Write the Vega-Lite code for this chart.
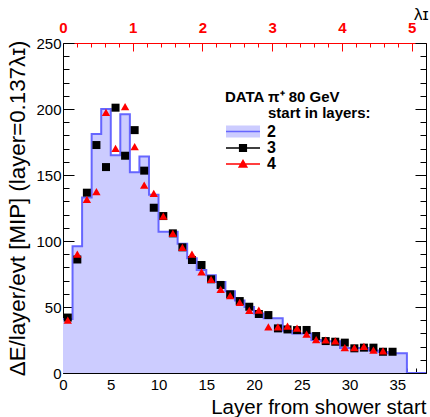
{
  "$schema": "https://vega.github.io/schema/vega-lite/v6.json",
  "width": 363,
  "height": 330,
  "autosize": "none",
  "padding": {"left": 63, "top": 43, "right": 4, "bottom": 44},
  "background": "white",
  "config": {
    "view": {"stroke": null},
    "font": "Liberation Sans",
    "axis": {"grid": false, "labelFont": "Liberation Sans", "titleFont": "Liberation Sans", "domainColor": "black", "tickColor": "black", "labelColor": "black", "titleColor": "black", "titleFontWeight": "normal", "labelFlush": false, "labelOverlap": false},
    "legend": {"orient": "none", "padding": 0, "symbolSize": 1156, "clipHeight": 17, "rowPadding": 0, "labelOffset": 6, "labelFont": "Liberation Sans", "labelFontSize": 16, "labelFontWeight": "bold", "labelColor": "black", "symbolStrokeWidth": 1.5, "symbolOpacity": 1}
  },
  "title": {
    "text": "start in layers:",
    "anchor": "start",
    "frame": "group",
    "orient": "top",
    "offset": 0,
    "dx": 205,
    "dy": 128,
    "baseline": "alphabetic",
    "font": "Liberation Sans",
    "fontSize": 15,
    "fontWeight": "bold",
    "color": "black"
  },
  "datasets": {
    "hist": [
      {"layer": 0, "dE": 41}, {"layer": 1, "dE": 96}, {"layer": 2, "dE": 133}, {"layer": 3, "dE": 181},
      {"layer": 4, "dE": 200}, {"layer": 5, "dE": 165}, {"layer": 6, "dE": 196}, {"layer": 7, "dE": 152},
      {"layer": 8, "dE": 164}, {"layer": 9, "dE": 135}, {"layer": 10, "dE": 107}, {"layer": 11, "dE": 107},
      {"layer": 12, "dE": 98}, {"layer": 13, "dE": 87}, {"layer": 14, "dE": 78}, {"layer": 15, "dE": 74},
      {"layer": 16, "dE": 69}, {"layer": 17, "dE": 62}, {"layer": 18, "dE": 55}, {"layer": 19, "dE": 50},
      {"layer": 20, "dE": 45}, {"layer": 21, "dE": 41.5}, {"layer": 22, "dE": 41.5}, {"layer": 23, "dE": 32},
      {"layer": 24, "dE": 30}, {"layer": 25, "dE": 30}, {"layer": 26, "dE": 25}, {"layer": 27, "dE": 24},
      {"layer": 28, "dE": 24}, {"layer": 29, "dE": 19}, {"layer": 30, "dE": 19}, {"layer": 31, "dE": 19},
      {"layer": 32, "dE": 17}, {"layer": 33, "dE": 16}, {"layer": 34, "dE": 15}, {"layer": 35, "dE": 15},
      {"layer": 36, "dE": 0}, {"layer": 37, "dE": 0}, {"layer": 38, "dE": 0}
    ],
    "start3": [
      {"layer": 0.5, "dE": 42}, {"layer": 1.5, "dE": 86}, {"layer": 2.5, "dE": 136.6}, {"layer": 3.5, "dE": 172.7},
      {"layer": 4.5, "dE": 156}, {"layer": 5.5, "dE": 201}, {"layer": 6.5, "dE": 164.6}, {"layer": 7.5, "dE": 184},
      {"layer": 8.5, "dE": 153.3}, {"layer": 9.5, "dE": 125.2}, {"layer": 10.5, "dE": 118.9}, {"layer": 11.5, "dE": 105.8},
      {"layer": 12.5, "dE": 95.2}, {"layer": 13.5, "dE": 85.6}, {"layer": 14.5, "dE": 81.8}, {"layer": 15.5, "dE": 71},
      {"layer": 16.5, "dE": 66.7}, {"layer": 17.5, "dE": 59.6}, {"layer": 18.5, "dE": 54.5}, {"layer": 19.5, "dE": 50.2},
      {"layer": 20.5, "dE": 44.7}, {"layer": 21.5, "dE": 43.9}, {"layer": 22.5, "dE": 33.8}, {"layer": 23.5, "dE": 33},
      {"layer": 24.5, "dE": 32.5}, {"layer": 25.5, "dE": 32.6}, {"layer": 26.5, "dE": 28}, {"layer": 27.5, "dE": 24.2},
      {"layer": 28.5, "dE": 23.7}, {"layer": 29.5, "dE": 23}, {"layer": 30.5, "dE": 18.7}, {"layer": 31.5, "dE": 19.2},
      {"layer": 32.5, "dE": 19.2}, {"layer": 33.5, "dE": 16.1}, {"layer": 34.5, "dE": 16.1}
    ],
    "start4": [
      {"layer": 0.5, "dE": 40}, {"layer": 1.5, "dE": 90}, {"layer": 2.5, "dE": 131.6}, {"layer": 3.5, "dE": 137.4},
      {"layer": 4.5, "dE": 197.5}, {"layer": 5.5, "dE": 170.2}, {"layer": 6.5, "dE": 201.8}, {"layer": 7.5, "dE": 171.5},
      {"layer": 8.5, "dE": 142.4}, {"layer": 9.5, "dE": 136.1}, {"layer": 10.5, "dE": 118.9}, {"layer": 11.5, "dE": 105.8},
      {"layer": 12.5, "dE": 95.2}, {"layer": 13.5, "dE": 90.1}, {"layer": 14.5, "dE": 76.7}, {"layer": 15.5, "dE": 71},
      {"layer": 16.5, "dE": 63.4}, {"layer": 17.5, "dE": 58.6}, {"layer": 18.5, "dE": 53.5}, {"layer": 19.5, "dE": 47.5},
      {"layer": 20.5, "dE": 47.7}, {"layer": 21.5, "dE": 35}, {"layer": 22.5, "dE": 35}, {"layer": 23.5, "dE": 35.6},
      {"layer": 24.5, "dE": 34}, {"layer": 25.5, "dE": 29.4}, {"layer": 26.5, "dE": 25.3}, {"layer": 27.5, "dE": 25},
      {"layer": 28.5, "dE": 24.3}, {"layer": 29.5, "dE": 19.3}, {"layer": 30.5, "dE": 19.3}, {"layer": 31.5, "dE": 20.2},
      {"layer": 32.5, "dE": 17.4}, {"layer": 33.5, "dE": 16.7}
    ]
  },
  "layer": [
    {
      "data": {"name": "hist"},
      "mark": {"type": "area", "interpolate": "step-after", "opacity": 1, "clip": true},
      "encoding": {
        "x": {
          "field": "layer", "type": "quantitative",
          "scale": {"domain": [0, 38], "nice": false, "zero": false},
          "axis": {
            "orient": "bottom",
            "values": [0,1,2,3,4,5,6,7,8,9,10,11,12,13,14,15,16,17,18,19,20,21,22,23,24,25,26,27,28,29,30,31,32,33,34,35,36,37,38],
            "format": "d",
            "labelExpr": "datum.value % 5 === 0 && datum.value <= 35 ? datum.label : ''",
            "tickSize": {"condition": {"test": "datum.value % 5 === 0", "value": -10}, "value": -5},
            "labelPadding": 14,
            "labelFontSize": 15,
            "domainWidth": 1,
            "title": "Layer from shower start",
            "titleFontSize": 20.5,
            "titleAnchor": "end",
            "titleAlign": "right",
            "titleBaseline": "alphabetic",
            "titleX": 363,
            "titleY": 40
          }
        },
        "y": {
          "field": "dE", "type": "quantitative",
          "scale": {"domain": [0, 250], "nice": false, "zero": true},
          "axis": {
            "orient": "left",
            "values": [0,10,20,30,40,50,60,70,80,90,100,110,120,130,140,150,160,170,180,190,200,210,220,230,240,250],
            "format": "d",
            "labelExpr": "datum.value % 50 === 0 ? datum.label : ''",
            "tickSize": {"condition": {"test": "datum.value % 50 === 0", "value": -11}, "value": -6},
            "labelPadding": 13,
            "labelFontSize": 15,
            "domainWidth": 1,
            "title": "ΔE/layer/evt [MIP] (layer=0.137λɪ)",
            "titleFontSize": 22.3,
            "titleAngle": -90,
            "titleAlign": "right",
            "titleAnchor": "end",
            "titleBaseline": "alphabetic",
            "titleX": -39,
            "titleY": -3
          }
        },
        "fill": {
          "datum": "2",
          "scale": {"domain": ["2"], "range": ["#ccccff"]},
          "legend": {
            "legendX": 162,
            "legendY": 47,
            "title": "DATA π⁺ 80 GeV",
            "titleFont": "Liberation Sans",
            "titleFontSize": 15,
            "titleFontWeight": "bold",
            "titleColor": "black",
            "titlePadding": 18,
            "titleBaseline": "top",
            "symbolType": "M-1,0H1V-0.35H-1V0.35H1V0Z",
            "symbolStrokeColor": "#6666ff",
            "symbolDash": [34, 300]
          }
        }
      }
    },
    {
      "data": {"name": "hist"},
      "mark": {"type": "line", "interpolate": "step-after", "color": "#6666ff", "strokeWidth": 2, "clip": true},
      "encoding": {
        "x": {"field": "layer", "type": "quantitative", "axis": null},
        "y": {"field": "dE", "type": "quantitative", "axis": null}
      }
    },
    {
      "data": {"name": "start3"},
      "mark": {"type": "point", "shape": "square", "filled": true, "size": 64, "color": "#000000", "opacity": 1},
      "encoding": {
        "x": {
          "field": "layer", "type": "quantitative",
          "axis": {
            "orient": "top",
            "values": [0, 1.4599, 2.9197, 4.3796, 5.8394, 7.2993, 8.7591, 10.219, 11.6788, 13.1387, 14.5985, 16.0584, 17.5182, 18.9781, 20.438, 21.8978, 23.3577, 24.8175, 26.2774, 27.7372, 29.1971, 30.6569, 32.1168, 33.5766, 35.0365, 36.4964, 37.9562],
            "labelExpr": "abs(datum.value * 0.137 - round(datum.value * 0.137)) < 0.01 ? format(round(datum.value * 0.137), 'd') : ''",
            "tickSize": {"condition": {"test": "abs(datum.value * 0.137 - round(datum.value * 0.137)) < 0.01", "value": -8}, "value": -4},
            "labelPadding": 16,
            "labelFontSize": 15,
            "labelFontWeight": "bold",
            "labelColor": "#ff0000",
            "domainColor": "#ff0000",
            "tickColor": "#ff0000",
            "domainWidth": 1,
            "title": "λɪ",
            "titleFontSize": 17,
            "titleAnchor": "end",
            "titleAlign": "right",
            "titleBaseline": "alphabetic",
            "titleX": 365,
            "titleY": -24
          }
        },
        "y": {
          "field": "dE", "type": "quantitative",
          "axis": {
            "orient": "right",
            "values": [0,10,20,30,40,50,60,70,80,90,100,110,120,130,140,150,160,170,180,190,200,210,220,230,240,250],
            "labels": false,
            "tickSize": {"condition": {"test": "datum.value % 50 === 0", "value": -11}, "value": -6},
            "domainWidth": 1,
            "title": null
          }
        },
        "strokeDash": {
          "datum": "3",
          "scale": {"domain": ["3"], "range": [[1, 0]]},
          "legend": {
            "legendX": 162,
            "legendY": 96.5,
            "title": null,
            "symbolType": "M-1,-0.045H1V0.045H-1ZM-0.24,-0.24H0.24V0.24H-0.24Z",
            "symbolFillColor": "#000000"
          }
        }
      }
    },
    {
      "data": {"name": "start4"},
      "mark": {"type": "point", "shape": "triangle-up", "filled": true, "size": 70, "color": "#ff0000"},
      "encoding": {
        "x": {"field": "layer", "type": "quantitative", "axis": null},
        "y": {"field": "dE", "type": "quantitative", "axis": null},
        "opacity": {
          "datum": "4",
          "scale": {"type": "ordinal", "domain": ["4"], "range": [1]},
          "legend": {
            "legendX": 162,
            "legendY": 112.5,
            "title": null,
            "symbolType": "M-1,-0.045H1V0.045H-1ZM0,-0.3L0.3,0.22H-0.3Z",
            "symbolFillColor": "#ff0000"
          }
        }
      }
    }
  ],
  "resolve": {"axis": {"x": "independent", "y": "independent"}}
}
